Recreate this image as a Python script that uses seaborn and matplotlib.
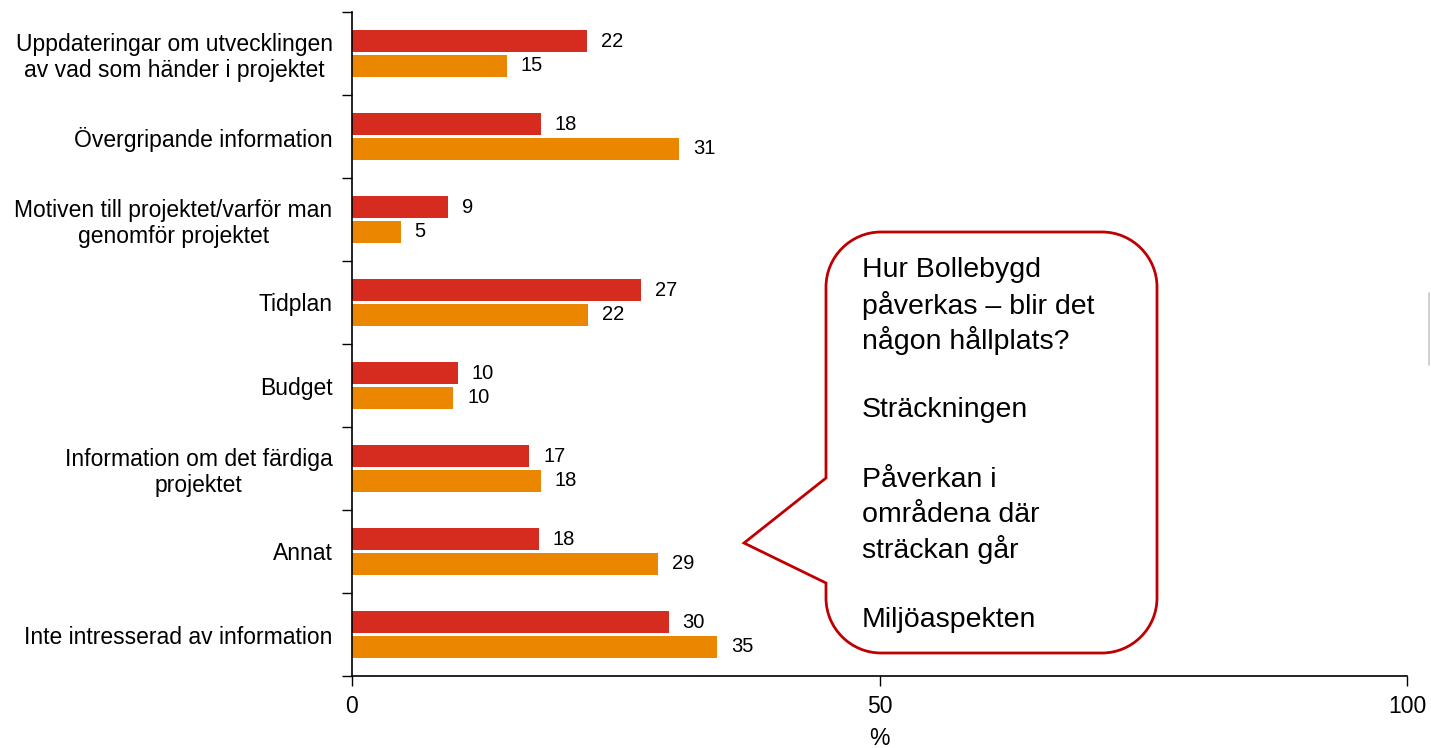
import numpy as np
import pandas as pd
import seaborn as sns
import matplotlib.pyplot as plt
from matplotlib.path import Path
from matplotlib.patches import PathPatch
from matplotlib.lines import Line2D

categories = [
    "Uppdateringar om utvecklingen\nav vad som händer i projektet",
    "Övergripande information",
    "Motiven till projektet/varför man\ngenomför projektet",
    "Tidplan",
    "Budget",
    "Information om det färdiga\nprojektet",
    "Annat",
    "Inte intresserad av information",
]
# bar lengths (labels show them rounded)
serie_a = [22.3, 17.9, 9.1, 27.4, 10.0, 16.8, 17.7, 30.0]
serie_b = [14.7, 31.0, 4.6, 22.4, 9.6, 17.9, 29.0, 34.6]
series_names = ["Serie A", "Serie B"]
colors = ["#D62B1F", "#EB8600"]
x_ticks = [0, 50, 100]

callout_lines = ["Hur Bollebygd", "påverkas – blir det", "någon hållplats?", "",
                 "Sträckningen", "", "Påverkan i", "områdena där", "sträckan går", "",
                 "Miljöaspekten"]

df = pd.DataFrame({
    "kategori": categories * 2,
    "varde": serie_a + serie_b,
    "serie": [series_names[0]] * len(categories) + [series_names[1]] * len(categories),
})

sns.set_style("white")
plt.rcParams["font.family"] = ["Liberation Sans", "DejaVu Sans"]
plt.rcParams["text.color"] = "black"
plt.rcParams["xtick.color"] = "black"
plt.rcParams["ytick.color"] = "black"
plt.rcParams["axes.labelcolor"] = "black"

W, H = 1431, 748
fig = plt.figure(figsize=(W / 100, H / 100), dpi=100)
ax = fig.add_axes([352 / W, 1 - 676 / H, (1407 - 352) / W, (676 - 12) / H])

sns.barplot(data=df, y="kategori", x="varde", hue="serie", orient="h",
            palette=colors, saturation=1, width=0.6, gap=0.1, legend=False, ax=ax,
            edgecolor="none")

for cont in ax.containers:
    ax.bar_label(cont, fmt="%.0f", padding=10, fontsize=14.5, color="black")

ax.set_xlim(0, 100)
ax.set_ylim(len(categories) - 0.5, -0.5)
ax.set_xticks(x_ticks)
ax.set_xticklabels([str(t) for t in x_ticks], fontsize=16.5)
ax.set_xlabel("%", fontsize=16.5, labelpad=6)
ax.set_ylabel("")

ax.set_yticks(range(len(categories)))
ax.set_yticklabels(categories, fontsize=16.5, multialignment="center", linespacing=1.15)
ax.tick_params(axis="y", length=0, pad=14)
ax.set_yticks(np.arange(-0.5, len(categories), 1), minor=True)
ax.tick_params(axis="y", which="minor", length=7, width=1, color="black", direction="out", left=True)
ax.tick_params(axis="x", length=7, width=1, color="black", direction="out", bottom=True, pad=7)

for s in ["top", "right"]:
    ax.spines[s].set_visible(False)
for s in ["left", "bottom"]:
    ax.spines[s].set_color("black")
    ax.spines[s].set_linewidth(1.2)

# speech bubble callout (pixel layout -> figure fraction)
L, R, T, B, r = 826, 1157, 232, 653, 55
k = 0.45
pts = [
    ((L, T + r), Path.MOVETO),
    ((L, T + r * k), Path.CURVE4), ((L + r * k, T), Path.CURVE4), ((L + r, T), Path.CURVE4),
    ((R - r, T), Path.LINETO),
    ((R - r * k, T), Path.CURVE4), ((R, T + r * k), Path.CURVE4), ((R, T + r), Path.CURVE4),
    ((R, B - r), Path.LINETO),
    ((R, B - r * k), Path.CURVE4), ((R - r * k, B), Path.CURVE4), ((R - r, B), Path.CURVE4),
    ((L + r, B), Path.LINETO),
    ((L + r * k, B), Path.CURVE4), ((L, B - r * k), Path.CURVE4), ((L, B - r), Path.CURVE4),
    ((L, 583), Path.LINETO),
    ((744, 543), Path.LINETO),
    ((L, 478), Path.LINETO),
    ((L, T + r), Path.CLOSEPOLY),
]
verts = [(x / W, 1 - y / H) for (x, y), _ in pts]
codes = [c for _, c in pts]
bubble = PathPatch(Path(verts, codes), facecolor="white", edgecolor="#C00000",
                   linewidth=2, transform=fig.transFigure, zorder=5)
fig.patches.append(bubble)
for i, line in enumerate(callout_lines):
    if line:
        fig.text(862 / W, 1 - (270 + 35 * i) / H, line, fontsize=20.5,
                 va="center", ha="left", zorder=6)

# faint cut-off frame at right edge
fig.add_artist(Line2D([1429 / W, 1429 / W], [1 - 293 / H, 1 - 365 / H],
                      color="#C8C8C8", linewidth=1.2, transform=fig.transFigure))

fig.savefig("out.png", dpi=100)
